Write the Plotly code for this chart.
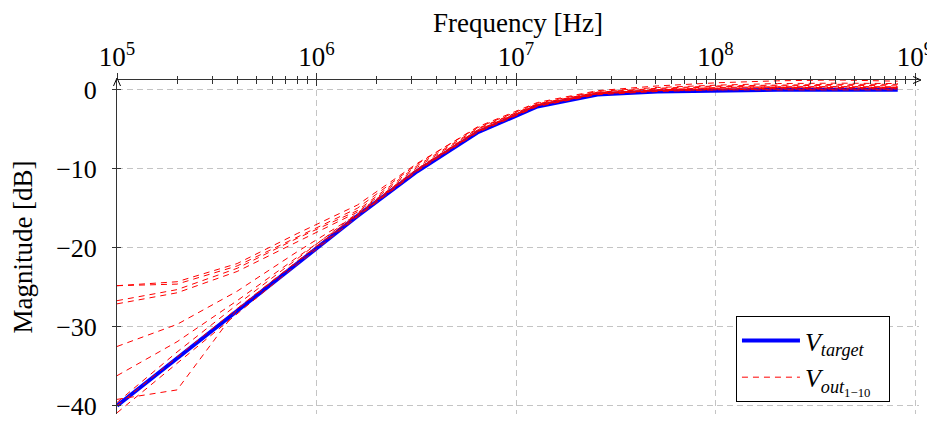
import plotly.graph_objects as go

# Frequencies (Hz): doubling steps from 100 kHz
freq = [1e5, 2e5, 4e5, 8e5, 1.6e6, 3.2e6, 6.4e6, 1.28e7, 2.56e7, 5.12e7,
        1.024e8, 2.048e8, 4.096e8, 8.192e8]

v_target = [-40.0, -34.0, -28.0, -22.0, -16.0, -10.3, -5.4, -2.1, -0.6, -0.2,
            -0.05, 0.0, 0.0, 0.0]

v_out_1 = [-24.8, -24.6, -22.3, -18.6, -15.0, -9.4, -4.7, -1.6, -0.1, 0.5, 0.9, 1.15, 1.25, 1.1]
v_out_2 = [-24.8, -24.3, -22.0, -18.2, -14.6, -9.3, -4.8, -1.7, -0.2, 0.3, 0.6, 0.8, 0.85, 0.8]
v_out_3 = [-26.7, -25.3, -22.6, -18.8, -15.3, -9.6, -4.9, -1.8, -0.3, 0.2, 0.5, 0.6, 0.7, 0.7]
v_out_4 = [-27.1, -25.7, -23.0, -19.2, -15.5, -9.8, -5.0, -1.8, -0.3, 0.1, 0.4, 0.5, 0.6, 0.5]
v_out_5 = [-32.5, -29.7, -25.5, -20.5, -15.8, -10.0, -5.1, -1.9, -0.4, 0.0, 0.3, 0.4, 0.4, 0.4]
v_out_6 = [-36.2, -31.9, -26.7, -21.2, -15.9, -10.1, -5.2, -2.0, -0.5, -0.1, 0.2, 0.3, 0.3, 0.3]
v_out_7 = [-39.2, -38.0, -27.8, -21.8, -16.0, -10.2, -5.3, -2.0, -0.5, -0.1, 0.1, 0.2, 0.2, 0.2]
v_out_8 = [-40.9, -34.6, -28.3, -22.1, -16.1, -10.3, -5.4, -2.1, -0.6, -0.2, 0.0, 0.1, 0.1, 0.1]
v_out_9 = [-40.0, -33.8, -27.7, -21.7, -15.8, -10.2, -5.3, -2.0, -0.5, -0.1, 0.0, 0.0, 0.0, 0.0]
v_out_10 = [-39.6, -33.2, -27.2, -21.4, -15.6, -10.0, -5.2, -1.9, -0.4, 0.0, 0.2, 0.3, 0.4, 0.3]

v_outs = [v_out_1, v_out_2, v_out_3, v_out_4, v_out_5,
          v_out_6, v_out_7, v_out_8, v_out_9, v_out_10]

x_major = [1e5, 1e6, 1e7, 1e8, 1e9]
x_major_text = ["10<sup>5</sup>", "10<sup>6</sup>", "10<sup>7</sup>", "10<sup>8</sup>", "10<sup>9</sup>"]
x_minor = [m * 10 ** e for e in range(5, 9) for m in range(2, 10)]
y_ticks = [0, -10, -20, -30, -40]
y_tick_text = ["0", "\u221210", "\u221220", "\u221230", "\u221240"]

FONT = "Liberation Serif"
AX = "#333333"
GRID = "#c4c4c4"

# the page body has an 8px margin, so the figure is drawn 8px in from the corner
OFF = 8
W, H = 935 - OFF, 422 - OFF
ML, MR, MT, MB = 117 - OFF, 16, 80 - OFF, 8
PW, PH = W - ML - MR, H - MT - MB

fig = go.Figure()

fig.add_trace(go.Scatter(
    x=freq, y=v_target, mode="lines",
    line=dict(color="#0000ff", width=4),
    name="<i>V</i><sub><i>target</i></sub>\u00a0\u00a0", legendrank=1,
))
for i, v in enumerate(v_outs):
    fig.add_trace(go.Scatter(
        x=freq, y=v, mode="lines",
        line=dict(color="#ff0000", width=1, dash="6px,5px"),
        name="<i>V</i><sub><i>out</i><sub>1\u221210</sub></sub>\u00a0\u00a0" if i == 0 else None,
        legendgroup="out", showlegend=(i == 0), legendrank=2,
    ))
# invisible trace on the overlay axes so they are drawn
fig.add_trace(go.Scatter(x=[1e5], y=[0], xaxis="x2", yaxis="y2", mode="markers",
                         marker=dict(opacity=0), showlegend=False, hoverinfo="skip"))

xr = [5, 9.02]
yr = [-41.05, 1.25]

# arrowheads at axis ends (open chevrons), in paper units
ax_tip_x = (PW + 2) / PW
ax_dx, ax_dy = 8 / PW, 3.5 / PH
ay_tip_y = (PH + 2) / PH
ay_dx, ay_dy = 3.5 / PW, 8 / PH
shapes = [
    dict(type="path", xref="paper", yref="paper",
         path=f"M {ax_tip_x - ax_dx} {1 + ax_dy} L {ax_tip_x} 1 L {ax_tip_x - ax_dx} {1 - ax_dy}",
         line=dict(color="black", width=1)),
    dict(type="path", xref="paper", yref="paper",
         path=f"M {-ay_dx} {ay_tip_y - ay_dy} L 0 {ay_tip_y} L {ay_dx} {ay_tip_y - ay_dy}",
         line=dict(color="black", width=1)),
    dict(type="line", xref="paper", yref="paper", x0=1, x1=ax_tip_x, y0=1, y1=1,
         line=dict(color=AX, width=1)),
    dict(type="line", xref="paper", yref="paper", x0=0, x1=0, y0=1, y1=ay_tip_y,
         line=dict(color=AX, width=1)),
]

fig.update_layout(
    width=W, height=H,
    margin=dict(l=ML, r=MR, t=MT, b=MB),
    paper_bgcolor="white", plot_bgcolor="white",
    font=dict(family=FONT, size=26, color="black"),
    showlegend=True,
    legend=dict(x=0.9638, y=0.036, xanchor="right", yanchor="bottom",
                bgcolor="white", bordercolor="black", borderwidth=1,
                font=dict(family=FONT, size=26), tracegroupgap=0,
                itemwidth=58),
    shapes=shapes,
    xaxis=dict(
        type="log", range=xr, side="top", automargin=False,
        tickmode="array", tickvals=x_major, ticktext=x_major_text,
        ticks="outside", ticklen=6, tickcolor=AX, tickwidth=1,
        showline=True, linecolor=AX, linewidth=1,
        showgrid=True, gridcolor=GRID, griddash="6px,4px", gridwidth=1,
        zeroline=False,
        minor=dict(tickmode="array", tickvals=x_minor, ticks="outside",
                   ticklen=3.5, tickcolor=AX, showgrid=False),
        title=dict(text="Frequency [Hz]", font=dict(family=FONT, size=27), standoff=30),
        tickfont=dict(family=FONT, size=27),
        ticklabelstandoff=-4,
    ),
    xaxis2=dict(
        type="log", range=xr, side="top", overlaying="x", anchor="y",
        automargin=False,
        tickmode="array", tickvals=x_major, showticklabels=False,
        ticks="inside", ticklen=6, tickcolor=AX, tickwidth=1,
        showline=False, showgrid=False, zeroline=False,
        minor=dict(tickmode="array", tickvals=x_minor, ticks="inside",
                   ticklen=3.5, tickcolor=AX, showgrid=False),
    ),
    yaxis=dict(
        range=yr, automargin=False,
        tickmode="array", tickvals=y_ticks, ticktext=y_tick_text,
        ticks="outside", ticklen=4, tickcolor=AX, tickwidth=1,
        showline=True, linecolor=AX, linewidth=1,
        showgrid=True, gridcolor=GRID, griddash="6px,4px", gridwidth=1,
        zeroline=False,
        title=dict(text="Magnitude [dB]", font=dict(family=FONT, size=27), standoff=20),
        tickfont=dict(family=FONT, size=26),
        ticklabelstandoff=10,
    ),
    yaxis2=dict(
        range=yr, overlaying="y", anchor="x", side="left", automargin=False,
        tickmode="array", tickvals=y_ticks, showticklabels=False,
        ticks="inside", ticklen=4, tickcolor=AX, tickwidth=1,
        showline=False, showgrid=False, zeroline=False,
    ),
)

fig.write_html("out.html")
